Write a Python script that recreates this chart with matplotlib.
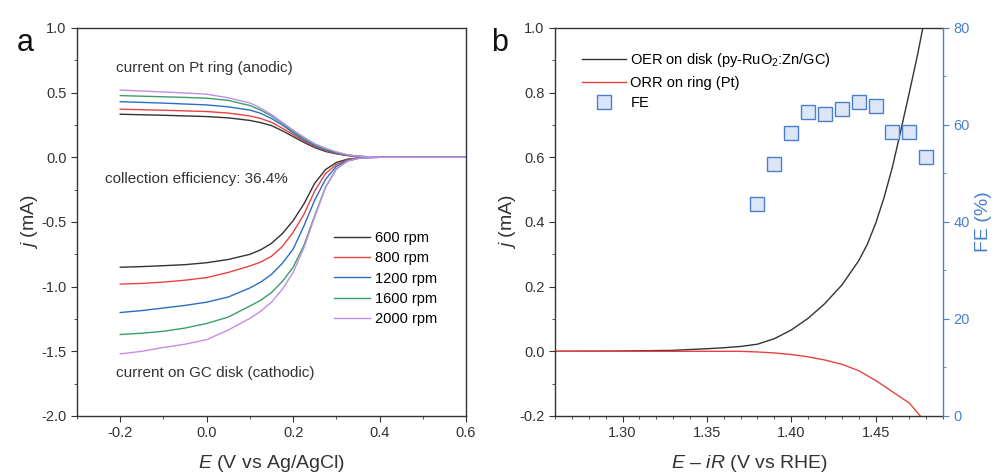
import matplotlib
matplotlib.use("Agg")
import matplotlib.pyplot as plt
from matplotlib.ticker import MultipleLocator

plt.rcParams['font.family'] = ['Liberation Sans', 'DejaVu Sans']
plt.rcParams['mathtext.fontset'] = 'custom'
plt.rcParams['mathtext.rm'] = 'Liberation Sans'
plt.rcParams['mathtext.it'] = 'Liberation Sans:italic'
plt.rcParams['axes.unicode_minus'] = False

# ---- panel a: RRDE collection efficiency ----
rpm_labels = ["600 rpm", "800 rpm", "1200 rpm", "1600 rpm", "2000 rpm"]
rpm_colors = ["#333333", "#e8423f", "#2b6cc4", "#3a9e66", "#c08ee8"]

ring_E = [-0.2, -0.1, -0.05, 0.0, 0.05, 0.1, 0.125, 0.15, 0.175, 0.2, 0.225, 0.25,
          0.275, 0.3, 0.325, 0.35, 0.4, 0.5, 0.6]
ring_j = [
    [0.333, 0.325, 0.32, 0.315, 0.305, 0.285, 0.268, 0.245, 0.205, 0.16, 0.115, 0.075,
     0.045, 0.027, 0.014, 0.006, 0.001, 0.0, 0.0],
    [0.372, 0.364, 0.359, 0.354, 0.342, 0.32, 0.30, 0.27, 0.225, 0.175, 0.125, 0.082,
     0.05, 0.03, 0.015, 0.006, 0.001, 0.0, 0.0],
    [0.43, 0.419, 0.412, 0.405, 0.39, 0.365, 0.34, 0.30, 0.25, 0.19, 0.135, 0.09,
     0.056, 0.034, 0.017, 0.007, 0.001, 0.0, 0.0],
    [0.477, 0.468, 0.463, 0.457, 0.44, 0.40, 0.365, 0.32, 0.263, 0.20, 0.145, 0.098,
     0.063, 0.038, 0.019, 0.008, 0.001, 0.0, 0.0],
    [0.52, 0.505, 0.497, 0.488, 0.46, 0.42, 0.38, 0.33, 0.27, 0.21, 0.155, 0.105,
     0.07, 0.042, 0.02, 0.008, 0.001, 0.0, 0.0],
]

disk_E = [-0.2, -0.15, -0.1, -0.05, 0.0, 0.05, 0.1, 0.125, 0.15, 0.175, 0.2, 0.225,
          0.25, 0.275, 0.3, 0.325, 0.35, 0.375, 0.4, 0.5, 0.6]
disk_j = [
    [-0.85, -0.845, -0.838, -0.83, -0.815, -0.79, -0.75, -0.715, -0.665, -0.59, -0.49,
     -0.36, -0.20, -0.095, -0.04, -0.015, -0.005, -0.001, 0.0, 0.0, 0.0],
    [-0.98, -0.975, -0.965, -0.95, -0.93, -0.89, -0.84, -0.81, -0.765, -0.69, -0.58,
     -0.44, -0.26, -0.125, -0.055, -0.02, -0.006, -0.001, 0.0, 0.0, 0.0],
    [-1.20, -1.185, -1.165, -1.145, -1.12, -1.08, -1.01, -0.965, -0.905, -0.82, -0.71,
     -0.53, -0.33, -0.17, -0.07, -0.025, -0.008, -0.002, 0.0, 0.0, 0.0],
    [-1.37, -1.36, -1.345, -1.32, -1.285, -1.235, -1.15, -1.105, -1.045, -0.96, -0.85,
     -0.68, -0.45, -0.23, -0.09, -0.03, -0.009, -0.002, 0.0, 0.0, 0.0],
    [-1.52, -1.50, -1.47, -1.445, -1.41, -1.335, -1.245, -1.19, -1.12, -1.02, -0.89,
     -0.70, -0.46, -0.235, -0.09, -0.03, -0.009, -0.002, 0.0, 0.0, 0.0],
]

# ---- panel b: OER / ORR and faradaic efficiency ----
oer_E = [1.26, 1.30, 1.33, 1.35, 1.36, 1.37, 1.38, 1.39, 1.40, 1.41, 1.42, 1.43,
         1.44, 1.445, 1.45, 1.455, 1.46, 1.465, 1.47, 1.475, 1.478]
oer_j = [0.0, 0.001, 0.003, 0.008, 0.011, 0.015, 0.022, 0.039, 0.066, 0.102, 0.148, 0.205,
         0.28, 0.33, 0.395, 0.475, 0.57, 0.684, 0.80, 0.92, 1.0]

orr_E = [1.26, 1.30, 1.34, 1.37, 1.38, 1.39, 1.40, 1.41, 1.42, 1.43, 1.44, 1.45,
         1.46, 1.47, 1.4765]
orr_j = [0.0, 0.0, 0.0, 0.0, -0.002, -0.005, -0.01, -0.017, -0.027, -0.04, -0.06,
         -0.09, -0.125, -0.16, -0.2]

fe_E = [1.38, 1.39, 1.40, 1.41, 1.42, 1.43, 1.44, 1.45, 1.46, 1.47, 1.48]
fe_val = [43.7, 52.0, 58.3, 62.7, 62.2, 63.3, 64.7, 64.0, 58.5, 58.5, 53.3]

dark = "#333333"
fe_blue = "#4a7fd0"

fig = plt.figure(figsize=(9.99, 4.74), dpi=100)
ax_a = fig.add_axes([0.0771, 0.1224, 0.3894, 0.8186])
ax_b = fig.add_axes([0.5556, 0.1224, 0.3884, 0.8186])


def style_axis(ax):
    for sp in ax.spines.values():
        sp.set_color(dark)
        sp.set_linewidth(1.0)
    ax.tick_params(which="both", direction="out", colors=dark, labelsize=10.5,
                   top=False, right=False)
    ax.tick_params(which="major", length=4)
    ax.tick_params(which="minor", length=2.5)


# panel a
for k in range(len(rpm_labels)):
    ax_a.plot(ring_E, ring_j[k], color=rpm_colors[k], lw=1.0)
    ax_a.plot(disk_E, disk_j[k], color=rpm_colors[k], lw=1.0, label=rpm_labels[k])

ax_a.set_xlim(-0.3, 0.6)
ax_a.set_ylim(-2.0, 1.0)
ax_a.xaxis.set_major_locator(MultipleLocator(0.2))
ax_a.xaxis.set_minor_locator(MultipleLocator(0.1))
ax_a.yaxis.set_major_locator(MultipleLocator(0.5))
ax_a.yaxis.set_minor_locator(MultipleLocator(0.25))
ax_a.set_xticks([-0.2, 0.0, 0.2, 0.4, 0.6])
ax_a.set_xticklabels(["-0.2", "0.0", "0.2", "0.4", "0.6"])
style_axis(ax_a)
ax_a.set_xlabel("$E$ (V vs Ag/AgCl)", fontsize=14, color=dark, labelpad=9)
ax_a.set_ylabel("$j$ (mA)", fontsize=14, color=dark, labelpad=1)

ax_a.text(-0.21, 0.66, "current on Pt ring (anodic)", fontsize=11, color=dark)
ax_a.text(-0.235, -0.2, "collection efficiency: 36.4%", fontsize=11, color=dark)
ax_a.text(-0.21, -1.7, "current on GC disk (cathodic)", fontsize=11, color=dark)
ax_a.legend(loc="upper left", bbox_to_anchor=(0.66, 0.476), frameon=False,
            fontsize=10.5, handlelength=2.5, handletextpad=0.3, labelspacing=0.42,
            borderaxespad=0, borderpad=0)
ax_a.text(-0.155, 1.0, "a", transform=ax_a.transAxes, fontsize=22, color="#111111",
          va="top")

# panel b
ax_b.plot(oer_E, oer_j, color=dark, lw=1.0, label="OER on disk (py-RuO$_2$:Zn/GC)")
ax_b.plot(orr_E, orr_j, color="#e8423f", lw=1.0, label="ORR on ring (Pt)")
ax_b.set_xlim(1.26, 1.49)
ax_b.set_ylim(-0.2, 1.0)
ax_b.xaxis.set_major_locator(MultipleLocator(0.05))
ax_b.xaxis.set_minor_locator(MultipleLocator(0.01))
ax_b.yaxis.set_major_locator(MultipleLocator(0.2))
ax_b.yaxis.set_minor_locator(MultipleLocator(0.1))
ax_b.set_yticks([-0.2, 0.0, 0.2, 0.4, 0.6, 0.8, 1.0])
ax_b.set_yticklabels(["-0.2", "0.0", "0.2", "0.4", "0.6", "0.8", "1.0"])
style_axis(ax_b)
ax_b.set_xlabel("$E$ – $iR$ (V vs RHE)", fontsize=14, color=dark, labelpad=9)
ax_b.set_ylabel("$j$ (mA)", fontsize=14, color=dark, labelpad=1)

ax_fe = ax_b.twinx()
fe_handle, = ax_fe.plot(fe_E, fe_val, ls="none", marker="s", ms=9.5,
                        mfc="#dce6f6", mec=fe_blue, mew=1.0, label="FE")
ax_fe.set_ylim(0, 80)
ax_fe.yaxis.set_major_locator(MultipleLocator(20))
ax_fe.yaxis.set_minor_locator(MultipleLocator(10))
for name, sp in ax_fe.spines.items():
    sp.set_visible(name == "right")
ax_fe.spines["right"].set_color(fe_blue)
ax_fe.spines["right"].set_linewidth(1.0)
ax_fe.tick_params(which="both", direction="out", colors=fe_blue, labelsize=10.5)
ax_fe.tick_params(which="major", length=4)
ax_fe.tick_params(which="minor", length=2.5)
ax_fe.set_ylabel("FE (%)", fontsize=14, color=fe_blue, labelpad=4)
ax_b.spines["right"].set_visible(False)

h, l = ax_b.get_legend_handles_labels()
ax_b.legend(h + [fe_handle], l + ["FE"], loc="upper left", bbox_to_anchor=(0.055, 0.955),
            frameon=False, fontsize=10.5, handlelength=3.0, handletextpad=0.3,
            labelspacing=0.45, borderaxespad=0)
ax_b.text(-0.165, 1.0, "b", transform=ax_b.transAxes, fontsize=22, color="#111111",
          va="top")

fig.savefig("out.png", dpi=100)
